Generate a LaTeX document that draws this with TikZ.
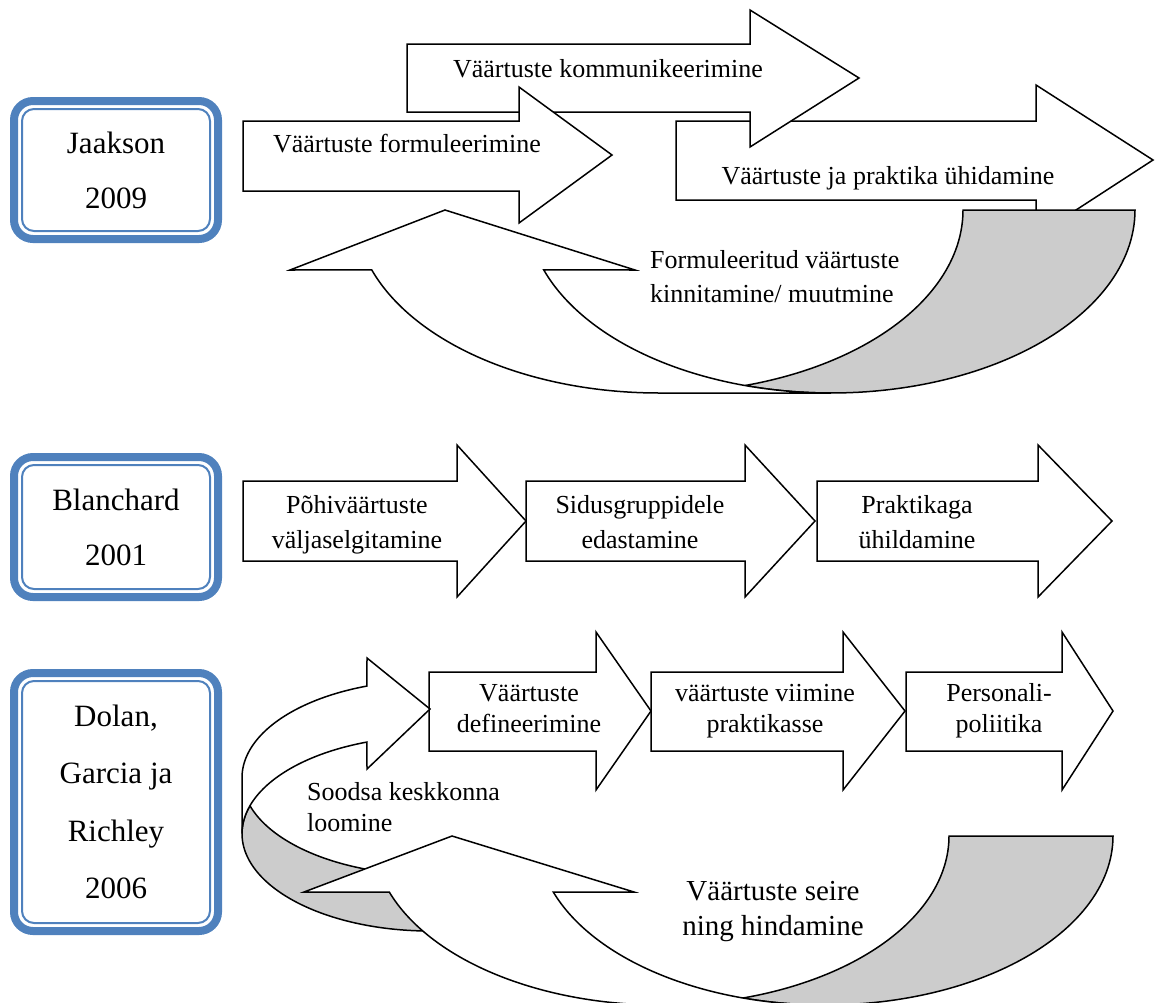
\documentclass[tikz,border=0pt]{standalone}
\usepackage{fontspec}
\setmainfont{Liberation Serif}
\definecolor{frameblue}{RGB}{79,129,189}
\definecolor{backgray}{RGB}{204,204,204}
% straight block arrow: x0, y-top, y-bottom, head base x, head top y, head bottom y, tip x, tip y
\newcommand{\blkarrow}[8]{%
  \draw[arrowshape] (#1,#2) -- (#4,#2) -- (#4,#5) -- (#7,#8) -- (#4,#6) -- (#4,#3) -- (#1,#3) -- cycle;}
\begin{document}
\begin{tikzpicture}[x=1pt,y=-1pt,
  arrowshape/.style={draw=black,fill=white,line width=1.5pt,line join=miter},
  backshape/.style={draw=black,fill=backgray,line width=1.5pt,line join=miter},
  frameout/.style={draw=frameblue,line width=8pt,rounded corners=19pt},
  framein/.style={draw=frameblue,line width=2pt,rounded corners=12pt},
  boxtext/.style={font=\fontsize{31}{37}\selectfont,inner sep=0pt,anchor=base},
  toptext/.style={font=\fontsize{26}{31}\selectfont,inner sep=0pt,anchor=base},
  steptext/.style={font=\fontsize{26}{31}\selectfont,inner sep=0pt,anchor=base},
  bigtext/.style={font=\fontsize{29}{35}\selectfont,inner sep=0pt,anchor=base},
]
\useasboundingbox (0,0) rectangle (1155,1002);
\clip (0,0) rectangle (1155,1002);

% ---------- author frames ----------
\draw[frameout] (14,101) rectangle (218,239);
\draw[framein]  (22,109) rectangle (210,231);
\draw[frameout] (14,457) rectangle (218,597);
\draw[framein]  (22,465) rectangle (210,589);
\draw[frameout] (14,673) rectangle (218,931);
\draw[framein]  (22,681) rectangle (210,923);

\node[boxtext] (ja1) at (116,153) {Jaakson};
\node[boxtext] (ja2) at (116,208) {2009};
\node[boxtext] (bl1) at (116,510) {Blanchard};
\node[boxtext] (bl2) at (116,565) {2001};
\node[boxtext] (do1) at (116,726) {Dolan,};
\node[boxtext] (do2) at (116,783) {Garcia ja};
\node[boxtext] (do3) at (116,841) {Richley};
\node[boxtext] (do4) at (116,898) {2006};

% ---------- Jaakson 2009 ----------
\blkarrow{676}{121}{200}{1036}{85}{236}{1153}{160}
\blkarrow{407}{44}{112}{750}{10}{147}{859}{78}
\blkarrow{243}{121}{191}{519}{87}{223}{612}{155}

% curved return arrow: back part
\draw[backshape]
  plot[domain=106.4:0,samples=70,variable=\t] ({831+304*cos(\t)},{210+183*sin(\t)})
  -- (963,210)
  -- plot[domain=0:73.6,samples=70,variable=\t] ({659+304*cos(\t)},{210+183*sin(\t)})
  -- cycle;
% curved return arrow: front band and head
\draw[arrowshape] (445,210) -- (290,270)
  -- plot[domain=160.9:90,samples=70,variable=\t] ({659+304*cos(\t)},{210+183*sin(\t)})
  -- plot[domain=90:160.9,samples=70,variable=\t] ({831+304*cos(\t)},{210+183*sin(\t)})
  -- (635,270) -- cycle;

\node[toptext] (komm) at (608,77) {Väärtuste kommunikeerimine};
\node[toptext] (form) at (407,152) {Väärtuste formuleerimine};
\node[toptext] (yhid) at (888,184) {Väärtuste ja praktika ühidamine};
\node[toptext,anchor=base west] (kin1) at (650,268) {Formuleeritud väärtuste};
\node[toptext,anchor=base west] (kin2) at (650,302) {kinnitamine/ muutmine};

% ---------- Blanchard 2001 ----------
\blkarrow{243}{481}{561}{457}{445}{597}{526}{521}
\blkarrow{526}{481}{561}{745}{445}{597}{815}{521}
\blkarrow{817}{481}{561}{1038}{445}{597}{1112}{521}

\node[steptext] (po1) at (357,513) {Põhiväärtuste};
\node[steptext] (po2) at (357,548) {väljaselgitamine};
\node[steptext] (si1) at (640,513) {Sidusgruppidele};
\node[steptext] (si2) at (640,548) {edastamine};
\node[steptext] (pr1) at (917,513) {Praktikaga};
\node[steptext] (pr2) at (917,548) {ühildamine};

% ---------- Dolan, Garcia ja Richley 2006 ----------
\blkarrow{429}{672}{751}{596}{632}{790}{651}{711}
\blkarrow{651}{672}{751}{843}{632}{790}{905}{711}
\blkarrow{906}{672}{751}{1062}{632}{790}{1113}{711}

% loop arrow on the left: back part
\draw[backshape]
  plot[domain=196.8:90,samples=70,variable=\t] ({430+188*cos(\t)},{833.7+97.3*sin(\t)})
  -- (430,875)
  -- plot[domain=90:163.2,samples=70,variable=\t] ({430+188*cos(\t)},{777.7+97.3*sin(\t)})
  -- cycle;
% loop arrow on the left: front band and head
\draw[arrowshape] (430,709) -- (367,658)
  -- plot[domain=250.4:180,samples=70,variable=\t] ({430+188*cos(\t)},{777.7+97.3*sin(\t)})
  -- plot[domain=180:250.4,samples=70,variable=\t] ({430+188*cos(\t)},{833.7+97.3*sin(\t)})
  -- (367,769) -- cycle;

% curved return arrow: back part
\draw[backshape]
  plot[domain=106.54:0,samples=70,variable=\t] ({825+288*cos(\t)},{836+169*sin(\t)})
  -- (949,836)
  -- plot[domain=0:73.46,samples=70,variable=\t] ({661+288*cos(\t)},{836+169*sin(\t)})
  -- cycle;
% curved return arrow: front band and head
\draw[arrowshape] (452,836) -- (304,892)
  -- plot[domain=160.65:90,samples=70,variable=\t] ({661+288*cos(\t)},{836+169*sin(\t)})
  -- plot[domain=90:160.65,samples=70,variable=\t] ({825+288*cos(\t)},{836+169*sin(\t)})
  -- (634,892) -- cycle;

\node[steptext] (de1) at (529,701) {Väärtuste};
\node[steptext] (de2) at (529,732) {defineerimine};
\node[steptext] (vi1) at (765,701) {väärtuste viimine};
\node[steptext] (vi2) at (765,732) {praktikasse};
\node[steptext] (pe1) at (999,701) {Personali-};
\node[steptext] (pe2) at (999,732) {poliitika};
\node[steptext,anchor=base west] (so1) at (307,800) {Soodsa keskkonna};
\node[steptext,anchor=base west] (so2) at (307,831) {loomine};
\node[bigtext] (se1) at (773,900) {Väärtuste seire};
\node[bigtext] (se2) at (773,935) {ning hindamine};
\end{tikzpicture}
\end{document}
